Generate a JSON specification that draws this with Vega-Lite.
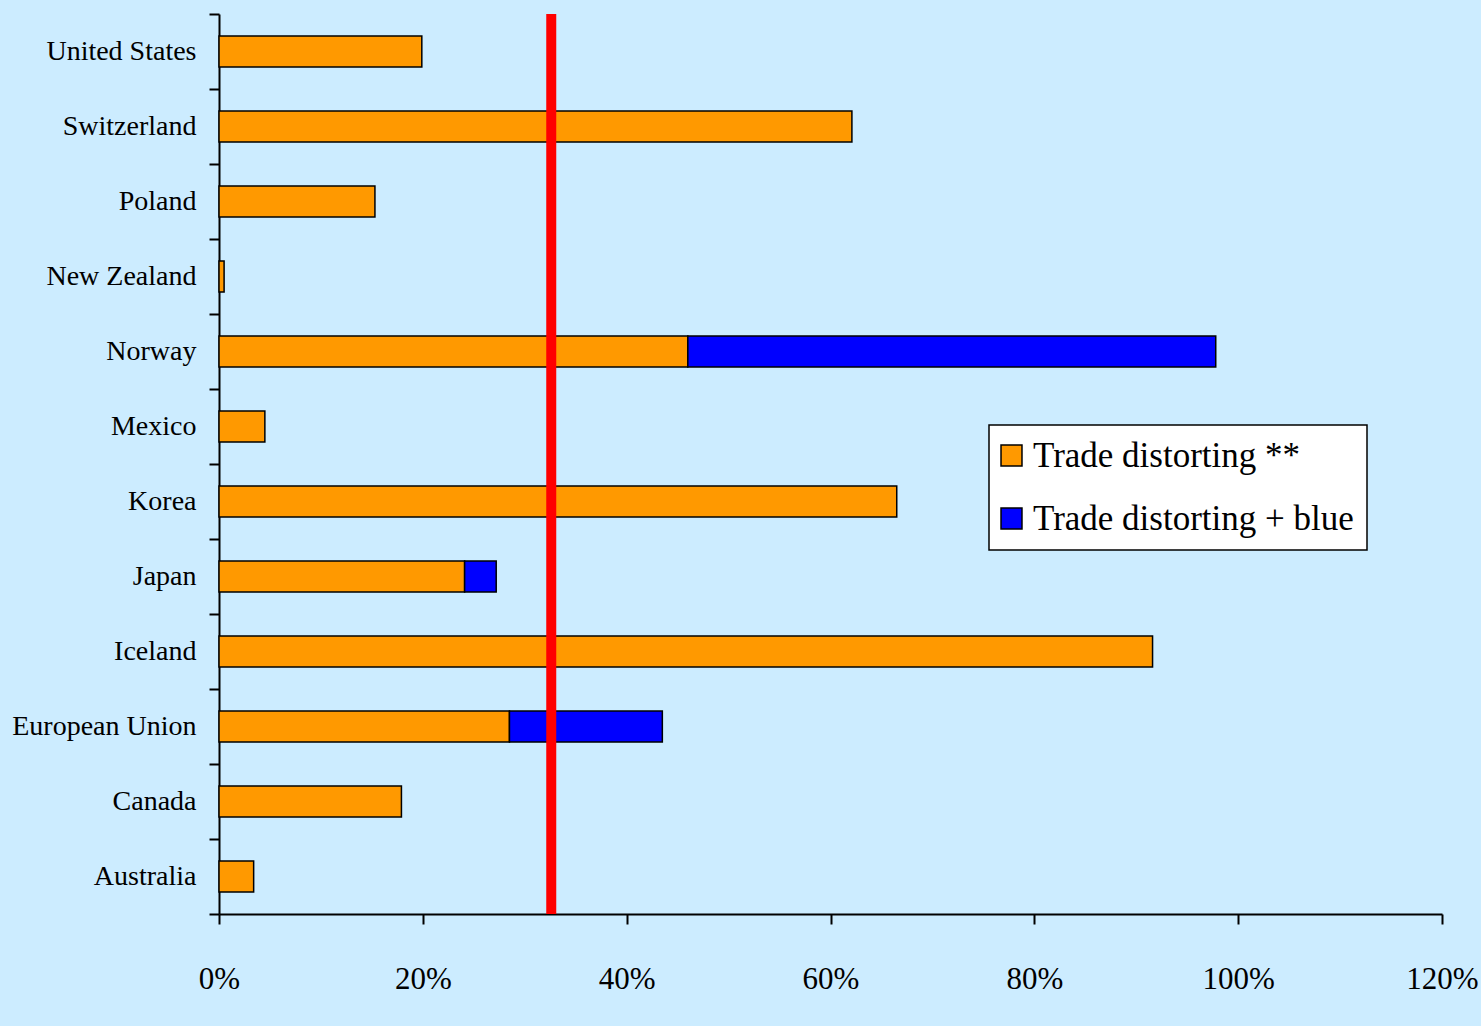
{
  "$schema": "https://vega.github.io/schema/vega-lite/v6.json",
  "width": 1223,
  "height": 900,
  "autosize": {"type": "none"},
  "padding": {"left": 219, "top": 14, "right": 39, "bottom": 112},
  "background": "#CCECFF",
  "config": {
    "view": {"stroke": null},
    "font": "Liberation Serif",
    "axis": {"domainColor": "black", "tickColor": "black", "labelColor": "black", "domainWidth": 2, "tickWidth": 2, "grid": false, "labelFont": "Liberation Serif"}
  },
  "datasets": {
    "bars": [
      {"country": "United States", "series": "Trade distorting **", "ord": 1, "value": 0.199},
      {"country": "Switzerland", "series": "Trade distorting **", "ord": 1, "value": 0.621},
      {"country": "Poland", "series": "Trade distorting **", "ord": 1, "value": 0.153},
      {"country": "New Zealand", "series": "Trade distorting **", "ord": 1, "value": 0.005},
      {"country": "Norway", "series": "Trade distorting **", "ord": 1, "value": 0.460},
      {"country": "Norway", "series": "Trade distorting + blue", "ord": 2, "value": 0.518},
      {"country": "Mexico", "series": "Trade distorting **", "ord": 1, "value": 0.045},
      {"country": "Korea", "series": "Trade distorting **", "ord": 1, "value": 0.665},
      {"country": "Japan", "series": "Trade distorting **", "ord": 1, "value": 0.241},
      {"country": "Japan", "series": "Trade distorting + blue", "ord": 2, "value": 0.031},
      {"country": "Iceland", "series": "Trade distorting **", "ord": 1, "value": 0.916},
      {"country": "European Union", "series": "Trade distorting **", "ord": 1, "value": 0.285},
      {"country": "European Union", "series": "Trade distorting + blue", "ord": 2, "value": 0.150},
      {"country": "Canada", "series": "Trade distorting **", "ord": 1, "value": 0.179},
      {"country": "Australia", "series": "Trade distorting **", "ord": 1, "value": 0.034}
    ],
    "threshold": [{"level": 0.326}]
  },
  "layer": [
    {
      "data": {"name": "bars"},
      "mark": {"type": "bar", "stroke": "black", "strokeWidth": 1.5, "height": {"band": 0.413}},
      "encoding": {
        "y": {
          "field": "country", "type": "nominal",
          "sort": ["United States", "Switzerland", "Poland", "New Zealand", "Norway", "Mexico", "Korea", "Japan", "Iceland", "European Union", "Canada", "Australia"],
          "scale": {"paddingInner": 0, "paddingOuter": 0},
          "axis": {"title": null, "tickBand": "extent", "tickSize": 10, "labelPadding": 13, "labelFontSize": 28, "labelLimit": 300}
        },
        "x": {
          "field": "value", "type": "quantitative", "stack": "zero",
          "scale": {"domain": [0, 1.2], "nice": false},
          "axis": {"title": null, "values": [0, 0.2, 0.4, 0.6, 0.8, 1.0, 1.2], "format": ".0%", "tickSize": 10, "labelPadding": 40, "labelFontSize": 31, "labelFlush": false, "labelOverlap": false}
        },
        "color": {
          "field": "series", "type": "nominal",
          "scale": {"domain": ["Trade distorting **", "Trade distorting + blue"], "range": ["#FF9900", "#0000FF"]},
          "legend": {
            "title": null, "orient": "none", "legendX": 770, "legendY": 411,
            "fillColor": "white", "strokeColor": "black",
            "padding": 13, "symbolType": "square", "symbolSize": 440,
            "symbolOffset": -8,
            "symbolStrokeColor": "black", "symbolStrokeWidth": 1.5,
            "labelFontSize": 35, "labelFont": "Liberation Serif", "labelColor": "black",
            "rowPadding": 27, "labelOffset": 4, "labelLimit": 400,
            "encode": {"legend": {"update": {"strokeWidth": {"value": 1.5}}}}
          }
        },
        "order": {"field": "ord", "type": "quantitative"}
      }
    },
    {
      "data": {"name": "threshold"},
      "mark": {"type": "rule", "color": "#FF0000", "strokeWidth": 10},
      "encoding": {"x": {"field": "level", "type": "quantitative"}}
    }
  ]
}
